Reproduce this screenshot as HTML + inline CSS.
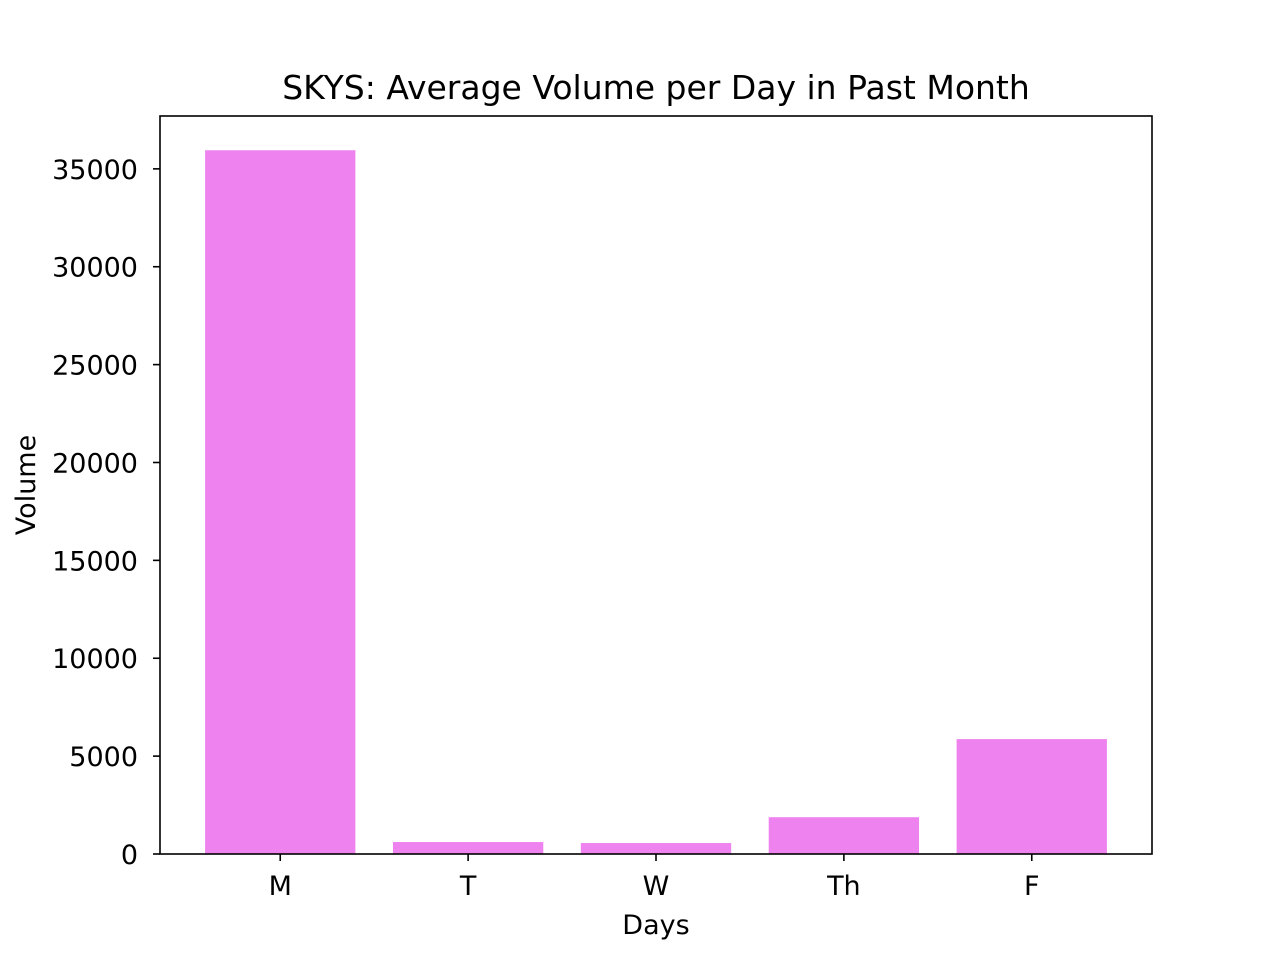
<!DOCTYPE html>
<html><head><meta charset="utf-8"><style>
body{margin:0;background:#fff;}
svg text{font-family:"DejaVu Sans","Liberation Sans",sans-serif;fill:#000;}
</style></head><body>
<svg id="chart" width="1280" height="960" xmlns="http://www.w3.org/2000/svg">
<rect width="1280" height="960" fill="#fff"/>
<text x="656" y="99" font-size="33" text-anchor="middle">SKYS: Average Volume per Day in Past Month</text>
<g id="bars"></g>
<g id="yticks"></g>
<g id="xticks"></g>
<rect x="160" y="116" width="992" height="738" fill="none" stroke="#000" stroke-width="1.6"/>
<text x="656" y="934" font-size="27" text-anchor="middle">Days</text>
<text transform="translate(35,485) rotate(-90)" font-size="27" text-anchor="middle">Volume</text>
</svg>
<script>
const categories=["M","T","W","Th","F"];
const values=[35950,610,560,1880,5870];
const yTicks=[0,5000,10000,15000,20000,25000,30000,35000];
const NS="http://www.w3.org/2000/svg";
const x0=160,x1=1152,y0=854,yTop=116;
const xmin=-0.64,xmax=4.64,ymax=37700;
function xs(v){return x0+(v-xmin)/(xmax-xmin)*(x1-x0);}
function ys(v){return y0-v/ymax*(y0-yTop);}
function mk(t,a,p){const e=document.createElementNS(NS,t);for(const k in a)e.setAttribute(k,a[k]);p.appendChild(e);return e;}
const bars=document.getElementById('bars'),yt=document.getElementById('yticks'),xt=document.getElementById('xticks');
categories.forEach((c,i)=>{
  const l=xs(i-0.4),r=xs(i+0.4),t=ys(values[i]);
  const b=mk('rect',{x:l,y:t,width:r-l,height:y0-t,fill:'#ee82ee'},bars);
  
  
  const tk=mk('line',{x1:xs(i),x2:xs(i),y1:y0,y2:y0+7,stroke:'#000','stroke-width':1.6},xt);
  
  
  const tx=mk('text',{x:xs(i),y:y0+41,'font-size':27,'text-anchor':'middle'},xt);
  tx.textContent=c;
  
  
});
yTicks.forEach(v=>{
  const y=ys(v);
  const tk=mk('line',{x1:x0-7,x2:x0,y1:y,y2:y,stroke:'#000','stroke-width':1.6},yt);
  
  
  const tx=mk('text',{x:x0-22,y:y+10,'font-size':27,'text-anchor':'end'},yt);
  tx.textContent=v;
  
  
});
</script>
</body></html>
